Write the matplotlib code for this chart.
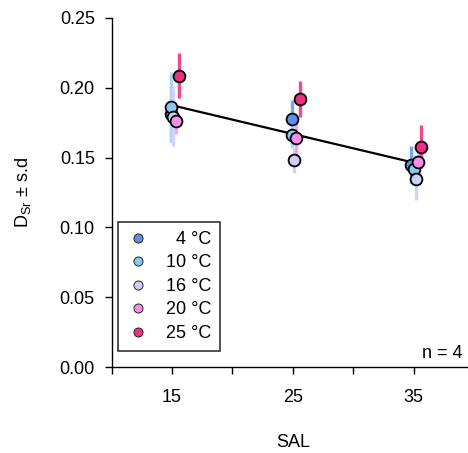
import matplotlib
matplotlib.use("Agg")
import matplotlib.pyplot as plt
import numpy as np

plt.rcParams['font.family'] = ['Liberation Sans', 'DejaVu Sans']
plt.rcParams['mathtext.fontset'] = 'custom'
plt.rcParams['mathtext.rm'] = 'Liberation Sans'
plt.rcParams['mathtext.it'] = 'Liberation Sans:italic'

# ---- data ----
labels = ["\u20074 °C", "10 °C", "16 °C", "20 °C", "25 °C"]
sal_4 = [14.9, 24.9, 34.8]
sal_10 = [14.9, 24.9, 35.0]
sal_16 = [15.1, 25.1, 35.2]
sal_20 = [15.3, 25.3, 35.4]
sal_25 = [15.6, 25.6, 35.6]

d_4 = [0.181, 0.1774, 0.145]
d_10 = [0.1865, 0.166, 0.1418]
d_16 = [0.179, 0.148, 0.1345]
d_20 = [0.176, 0.1638, 0.1466]
d_25 = [0.2087, 0.192, 0.1578]

sd_4 = [0.020, 0.014, 0.013]
sd_10 = [0.025, 0.009, 0.010]
sd_16 = [0.021, 0.009, 0.015]
sd_20 = [0.009, 0.012, 0.010]
sd_25 = [0.016, 0.013, 0.0155]

marker_colors = ["#5f8fe8", "#8cc8f5", "#cfcff5", "#f590e8", "#ef2f80"]
bar_colors = ["#7aa6f0", "#a8d6fa", "#d2d2fa", "#f7a5ec", "#f2449a"]

series_x = [sal_4, sal_10, sal_16, sal_20, sal_25]
series_y = [d_4, d_10, d_16, d_20, d_25]
series_sd = [sd_4, sd_10, sd_16, sd_20, sd_25]

FS = 13

fig = plt.figure(figsize=(4.68, 4.53), dpi=100)
W, H = 468, 453
left_px, right_px, top_px, bottom_px = 111.5, 474, 18, 367
ax = fig.add_axes([left_px / W, 1 - bottom_px / H, (right_px - left_px) / W,
                   (bottom_px - top_px) / H])

# error bars
for xs, ys, sds, bc in zip(series_x, series_y, series_sd, bar_colors):
    for x, y, s in zip(xs, ys, sds):
        ax.plot([x, x], [y - s, y + s], color=bc, lw=2.4, solid_capstyle='butt', zorder=2)

# regression line
all_x = np.array([15, 25, 35] * 5, dtype=float)
all_y = np.concatenate([np.array(v) for v in series_y])
slope, intercept = np.polyfit(all_x, all_y, 1)
lx = np.array([15.0, 35.0])
ax.plot(lx, slope * lx + intercept, color='black', lw=1.6, zorder=3)

# points
handles = []
for xs, ys, mc, lab in zip(series_x, series_y, marker_colors, labels):
    ax.plot(xs, ys, 'o', ms=8.5, mfc=mc, mec='black', mew=1.3, zorder=4)
    h, = ax.plot([], [], 'o', ms=6.5, mfc=mc, mec='#222222', mew=0.7, label=lab)
    handles.append(h)

ax.set_xlim(10, 40)
ax.set_ylim(0, 0.25)
ax.set_xticks([10, 15, 20, 25, 30, 35, 40])
ax.set_xticklabels(["", "15", "", "25", "", "35", ""])
ax.set_yticks([0, 0.05, 0.10, 0.15, 0.20, 0.25])
ax.set_yticklabels(["0.00", "0.05", "0.10", "0.15", "0.20", "0.25"])
ax.tick_params(direction='out', length=5, width=1, labelsize=FS)
ax.tick_params(axis='x', pad=11)
ax.tick_params(axis='y', pad=7)
ax.spines['top'].set_visible(False)
ax.spines['right'].set_visible(False)
for s in ['left', 'bottom']:
    ax.spines[s].set_linewidth(1)

ax.set_xlabel("SAL", fontsize=FS, labelpad=20)
ax.set_ylabel(r"D$_{\mathrm{Sr}}$ ± s.d", fontsize=FS, labelpad=19)

ax.text(35.7, 0.0065, "n = 4", fontsize=FS, ha='left', va='baseline')

leg = ax.legend(handles=handles, loc='lower left',
                bbox_to_anchor=(6.5 / (right_px - left_px), 16 / (bottom_px - top_px)),
                borderaxespad=0, fontsize=FS, frameon=True, fancybox=False,
                edgecolor='black', labelspacing=0.36, handlelength=1.2,
                handletextpad=0.95, borderpad=0.5)
leg.get_frame().set_linewidth(1.2)

fig.savefig("out.png", dpi=100)
